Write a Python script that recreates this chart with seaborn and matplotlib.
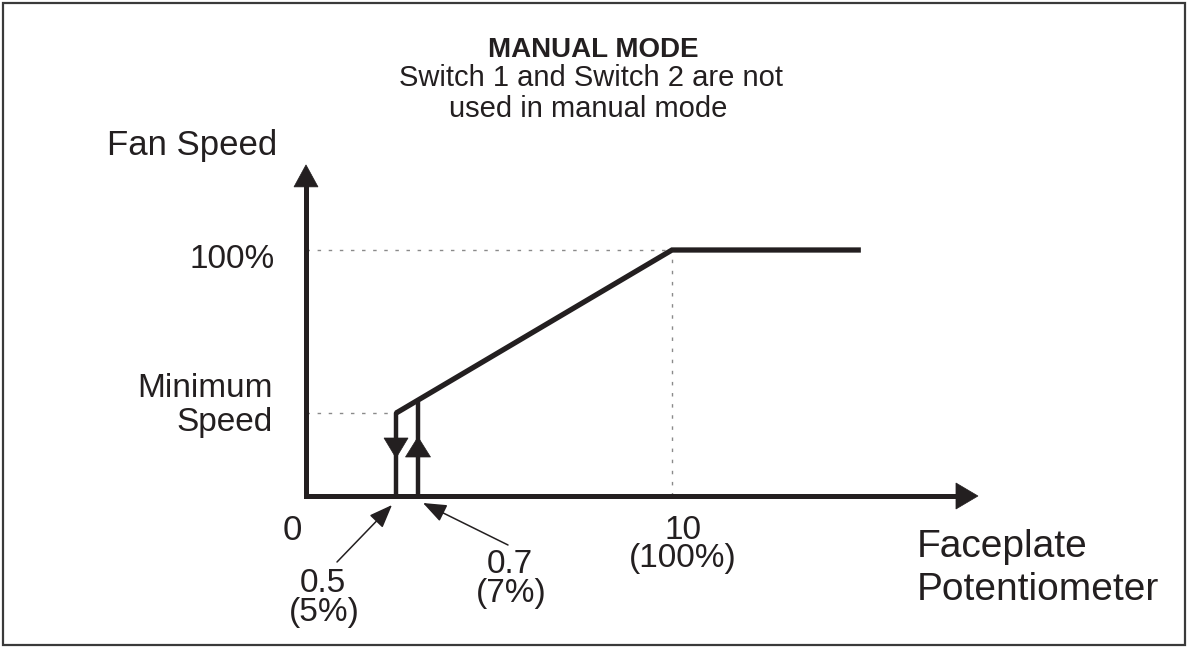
import matplotlib
matplotlib.use("Agg")
import matplotlib.pyplot as plt
import seaborn as sns
import pandas as pd
from matplotlib.patches import Rectangle, Polygon

# ---------------- data (schematic, not-to-scale potentiometer axis) ----------------
pot_pos = [2.46, 10.0, 15.16]        # drawn position of curve break points
fan_speed = [33.7, 100.0, 100.0]     # fan speed (%)
min_speed = 33.7
up_switch_pos = 3.06                 # 0.7 (7%) switch-on position
up_switch_speed = 38.2
down_switch_pos = 2.46               # 0.5 (5%) switch-off position
full_pos = 10.0
x_axis_end = 18.36
y_axis_end = 134.6

title = "MANUAL MODE"
subtitle = ["Switch 1 and Switch 2 are not", "used in manual mode"]
y_label = "Fan Speed"
x_label = ["Faceplate", "Potentiometer"]
y_ticks = ["100%", "Minimum", "Speed"]
x_ticks = ["0", "0.5", "(5%)", "0.7", "(7%)", "10", "(100%)"]

INK = "#231f20"
GRID = "#8a8a8a"

sns.set_theme(style="white")
plt.rcParams["font.family"] = ["Liberation Sans", "DejaVu Sans"]

W, H = 1187, 647
fig = plt.figure(figsize=(W / 100, H / 100), dpi=100)
ax = fig.add_axes([0, 0, 1, 1])
ax.axis("off")

# pixel mapping: origin at (306, 496); 36.6 px per x-unit, 2.46 px per %
OX, OY, SX, SY = 306.0, 496.0, 36.6, 2.46
ax.set_xlim(-OX / SX, (W - OX) / SX)
ax.set_ylim(-(H - OY) / SY, OY / SY)


def fx(px):
    return px / W


def fy(py):
    return 1 - py / H


def head(tip_x, tip_y, direction, length_px, half_px):
    """filled triangular head, tip in data units, sizes in pixels"""
    if direction == "up":
        pts = [(tip_x, tip_y), (tip_x - half_px / SX, tip_y - length_px / SY),
               (tip_x + half_px / SX, tip_y - length_px / SY)]
    elif direction == "down":
        pts = [(tip_x, tip_y), (tip_x - half_px / SX, tip_y + length_px / SY),
               (tip_x + half_px / SX, tip_y + length_px / SY)]
    else:  # right
        pts = [(tip_x, tip_y), (tip_x - length_px / SX, tip_y - half_px / SY),
               (tip_x - length_px / SX, tip_y + half_px / SY)]
    ax.add_patch(Polygon(pts, closed=True, facecolor=INK, edgecolor=INK, lw=0.5, zorder=5))


# dotted guide lines
dot = dict(color=GRID, lw=1.0, linestyle=(0, (2.5, 5.5)), zorder=1)
ax.plot([0, full_pos], [100, 100], **dot)
ax.plot([full_pos, full_pos], [0, 100], **dot)
ax.plot([0, down_switch_pos], [min_speed, min_speed], **dot)

# axes with arrows
ax.plot([0, 0], [0, y_axis_end - 21 / SY], color=INK, lw=3.6, solid_capstyle="projecting", zorder=3)
head(0, y_axis_end, "up", 22, 12)
ax.plot([0, x_axis_end - 21 / SX], [0, 0], color=INK, lw=3.6, solid_capstyle="projecting", zorder=3)
head(x_axis_end, 0, "right", 22, 13)

# characteristic curve
df = pd.DataFrame({"pos": pot_pos, "speed": fan_speed})
sns.lineplot(data=df, x="pos", y="speed", color=INK, lw=3.8, ax=ax, sort=False,
             zorder=4, solid_joinstyle="miter", solid_capstyle="butt")

# hysteresis arrows
ax.plot([down_switch_pos, down_switch_pos], [0, min_speed], color=INK, lw=3.2, zorder=4)
head(down_switch_pos, (OY - 458) / SY, "down", 20, 12)
ax.plot([up_switch_pos, up_switch_pos], [0, up_switch_speed], color=INK, lw=3.2, zorder=4)
head(up_switch_pos, (OY - 437) / SY, "up", 20, 12.5)

# pointer arrows from tick labels
arr = dict(arrowstyle="-|>,head_length=0.9,head_width=0.35", color=INK, lw=1.1,
           shrinkA=0, shrinkB=0, mutation_scale=16)
ax.annotate("", xy=((392 - OX) / SX, (OY - 505) / SY), xytext=((337 - OX) / SX, (OY - 562) / SY),
            arrowprops=arr)
ax.annotate("", xy=((423 - OX) / SX, (OY - 503) / SY), xytext=((508 - OX) / SX, (OY - 545) / SY),
            arrowprops=arr)

# texts
fig.text(fx(593), fy(57), title, ha="center", va="baseline", fontsize=20, fontweight="bold", color=INK)
fig.text(fx(591), fy(86), subtitle[0], ha="center", va="baseline", fontsize=21, color=INK)
fig.text(fx(588), fy(117), subtitle[1], ha="center", va="baseline", fontsize=21, color=INK)

fig.text(fx(107), fy(155), y_label, ha="left", va="baseline", fontsize=25, color=INK)
fig.text(fx(275), fy(268), y_ticks[0], ha="right", va="baseline", fontsize=24, color=INK)
fig.text(fx(273), fy(397), y_ticks[1], ha="right", va="baseline", fontsize=24, color=INK)
fig.text(fx(273), fy(431), y_ticks[2], ha="right", va="baseline", fontsize=24, color=INK)

fig.text(fx(292), fy(540), x_ticks[0], ha="center", va="baseline", fontsize=25, color=INK)
fig.text(fx(323), fy(592), x_ticks[1], ha="center", va="baseline", fontsize=24, color=INK)
fig.text(fx(324), fy(621), x_ticks[2], ha="center", va="baseline", fontsize=24, color=INK)
fig.text(fx(510), fy(573), x_ticks[3], ha="center", va="baseline", fontsize=24, color=INK)
fig.text(fx(511), fy(602), x_ticks[4], ha="center", va="baseline", fontsize=24, color=INK)
fig.text(fx(683), fy(539), x_ticks[5], ha="center", va="baseline", fontsize=24, color=INK)
fig.text(fx(683), fy(567), x_ticks[6], ha="center", va="baseline", fontsize=24, color=INK)

fig.text(fx(917), fy(557), x_label[0], ha="left", va="baseline", fontsize=28, color=INK)
fig.text(fx(917), fy(600), x_label[1], ha="left", va="baseline", fontsize=28, color=INK)

# outer border
fig.patches.append(Rectangle((fx(2.5), fy(644.5)), fx(1182), 1 - fy(642), transform=fig.transFigure,
                             fill=False, edgecolor="#3a3a3a", lw=1.6, zorder=10))

fig.savefig("out.png", dpi=100, facecolor="white")
